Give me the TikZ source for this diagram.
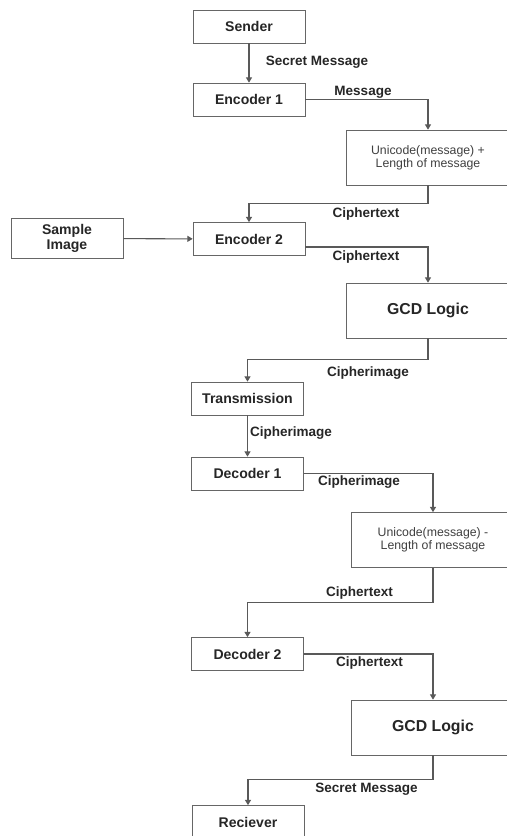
\documentclass[tikz,border=0pt]{standalone}
\usepackage{fontspec}
\setmainfont{Liberation Sans}
\usetikzlibrary{arrows.meta}

\begin{document}
\begin{tikzpicture}[
  x=0.02cm, y=-0.02cm,
  box/.style={rectangle, draw=black!60, fill=white, text=black!85,
              minimum width=2.24cm, minimum height=0.66cm, align=center,
              font=\bfseries\fontsize{8}{8.4}\selectfont},
  wideBox/.style={box, minimum width=3.28cm, minimum height=1.1cm},
  calcBox/.style={wideBox, text=black!75, font=\fontsize{7}{7.6}\selectfont},
  gcdBox/.style={wideBox, font=\bfseries\fontsize{9}{10}\selectfont},
  lbl/.style={inner sep=1pt, text=black!85, font=\bfseries\fontsize{7.7}{9}\selectfont},
  arr/.style={-{Triangle[length=3pt, width=3.4pt]}, draw=black!65, line width=0.6pt}
]
\useasboundingbox (0,0) rectangle (507,836);
\clip (0,0) rectangle (507,836);
% sender side
\node[box] (sender) at (249,26.5) {Sender};
\node[box] (enc1) at (249,99.5) {Encoder 1};
\node[calcBox] (uni1) at (428,157.5) {Unicode(message) +\\Length of message};
\node[box] (sample) at (67,238.5) {Sample\\Image};
\node[box] (enc2) at (249,239) {Encoder 2};
\node[gcdBox] (gcd1) at (428,310.5) {GCD Logic};
\node[box] (trans) at (247.5,398.5) {Transmission};
% receiver side
\node[box] (dec1) at (247.5,473.5) {Decoder 1};
\node[calcBox] (uni2) at (433,540) {Unicode(message) -\\Length of message};
\node[box] (dec2) at (247.5,654) {Decoder 2};
\node[gcdBox] (gcd2) at (433,727.5) {GCD Logic};
\node[box] (recv) at (248,822) {Reciever};
% connectors
\draw[arr] (sender) -- (enc1);
\draw[arr] (enc1.east) -| (uni1.north);
\draw[arr] (uni1.south) -- ++(0,18) -| (enc2.north);
\draw[arr] (sample) -- (enc2);
\draw[arr] ([yshift=-0.16cm]enc2.east) -| (gcd1.north);
\draw[arr] (gcd1.south) -- ++(0,21) -| (trans.north);
\draw[arr] (trans) -- (dec1);
\draw[arr] (dec1.east) -| (uni2.north);
\draw[arr] (uni2.south) -- ++(0,35) -| (dec2.north);
\draw[arr] (dec2.east) -| (gcd2.north);
\draw[arr] (gcd2.south) -- ++(0,24) -| (recv.north);
% labels
\node[lbl] (secretLbl) at (317,62) {Secret Message};
\node[lbl] (msgLbl) at (363,92) {Message};
\node[lbl] (cipherLbl1) at (366,214) {Ciphertext};
\node[lbl] (cipherLbl2) at (366,257) {Ciphertext};
\node[lbl] (imgLbl1) at (368,373) {Cipherimage};
\node[lbl] (imgLbl2) at (291,433) {Cipherimage};
\node[lbl] (imgLbl3) at (359,482) {Cipherimage};
\node[lbl] (cipherLbl3) at (359.5,593) {Ciphertext};
\node[lbl] (cipherLbl4) at (369.5,663) {Ciphertext};
\node[lbl] (secretLbl2) at (366.5,789) {Secret Message};
\end{tikzpicture}
\end{document}
